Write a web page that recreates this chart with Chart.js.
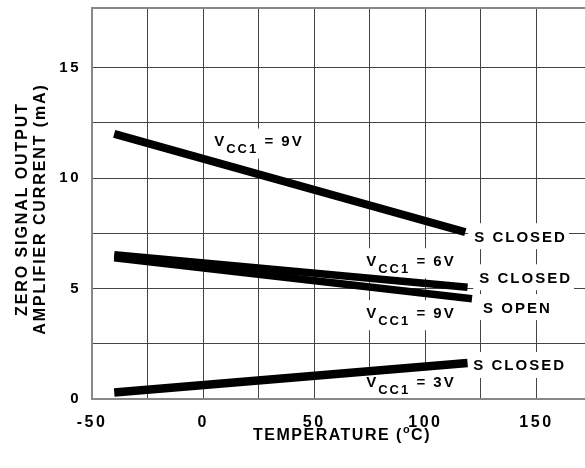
<!DOCTYPE html>
<html>
<head>
<meta charset="utf-8">
<script src="https://cdn.jsdelivr.net/npm/chart.js@4.4.1/dist/chart.umd.min.js"></script>
<style>
  html, body { margin: 0; padding: 0; background: #fff; overflow: hidden; }
  canvas { display: block; }
</style>
</head>
<body>
<canvas id="tempChart" width="600" height="468"></canvas>
<script>
// Curvas: temperatura (°C) x corrente (mA)
const vcc9ClosedX = [-40, 118];
const vcc9ClosedY = [12.0, 7.55];
const vcc6ClosedX = [-40, 119];
const vcc6ClosedY = [6.53, 5.06];
const vcc9OpenX = [-40, 121];
const vcc9OpenY = [6.39, 4.54];
const vcc3ClosedX = [-40, 119];
const vcc3ClosedY = [0.29, 1.63];

// Rótulos dos eixos
const xTickLabels = [-50, 0, 50, 100, 150];
const yTickLabels = [0, 5, 10, 15];

// Anotações (texto + posição em unidades do gráfico)
const vccValues = ['9V', '6V', '9V', '3V'];
const vccAtX = [5, 73.4, 73.4, 73.4];
const vccAtY = [11.7, 6.28, 3.93, 0.77];
const switchTexts = ['S CLOSED', 'S CLOSED', 'S OPEN', 'S CLOSED'];
const switchAtX = [122, 124.3, 126, 121.6];
const switchAtY = [7.37, 5.51, 4.16, 1.54];

const fam = '"Liberation Sans", Arial, Helvetica, sans-serif';

function toPoints(xs, ys) {
    return xs.map((x, i) => ({ x: x, y: ys[i] }));
}

function curve(xs, ys, width) {
    return {
        data: toPoints(xs, ys),
        borderColor: '#000',
        borderWidth: width,
        borderCapStyle: 'butt',
        pointRadius: 0,
        tension: 0,
        fill: false
    };
}

// mede "VCC1 = xV" (V + subscrito + resto)
function vccParts(ctx, value) {
    ctx.letterSpacing = '2px';
    ctx.font = 'bold 15px ' + fam;
    const wV = ctx.measureText('V').width;
    const rest = ' = ' + value;
    const wR = ctx.measureText(rest).width;
    ctx.font = 'bold 13px ' + fam;
    const wS = ctx.measureText('CC1').width;
    return { wV, wS, wR, rest };
}

function drawVcc(ctx, left, mid, value) {
    const p = vccParts(ctx, value);
    const base = mid + 5.4;
    ctx.fillStyle = '#000';
    ctx.textAlign = 'left';
    ctx.textBaseline = 'alphabetic';
    ctx.font = 'bold 15px ' + fam;
    ctx.fillText('V', left, base);
    ctx.font = 'bold 13px ' + fam;
    ctx.fillText('CC1', left + p.wV, base + 7);
    ctx.font = 'bold 15px ' + fam;
    ctx.fillText(p.rest, left + p.wV + p.wS, base);
}

function switchWidth(ctx, text) {
    ctx.letterSpacing = '2px';
    ctx.font = 'bold 15px ' + fam;
    return ctx.measureText(text).width;
}

const labelsPlugin = {
    id: 'labelsPlugin',
    beforeDraw(chart) {
        chart.ctx.letterSpacing = '2.5px';
    },
    // fundos brancos: apagam a grade, mas ficam sob as curvas
    beforeDatasetsDraw(chart) {
        const { ctx, chartArea, scales: { x, y } } = chart;
        ctx.save();
        ctx.fillStyle = '#fff';
        for (let i = 0; i < vccValues.length; i++) {
            const p = vccParts(ctx, vccValues[i]);
            const l = x.getPixelForValue(vccAtX[i]), m = y.getPixelForValue(vccAtY[i]);
            ctx.fillRect(l - 6, m - 12, p.wV + p.wS + p.wR + 8, 30);
        }
        for (let i = 0; i < switchTexts.length; i++) {
            const w = switchWidth(ctx, switchTexts[i]);
            const l = x.getPixelForValue(switchAtX[i]), m = y.getPixelForValue(switchAtY[i]);
            ctx.fillRect(l - 6, m - 13, w + 8, 26);
        }
        // moldura
        ctx.strokeStyle = '#888';
        ctx.lineWidth = 2;
        ctx.strokeRect(chartArea.left, chartArea.top, chartArea.right - chartArea.left, chartArea.bottom - chartArea.top);
        ctx.restore();
    },
    afterDatasetsDraw(chart) {
        const { ctx, scales: { x, y } } = chart;
        ctx.save();
        for (let i = 0; i < vccValues.length; i++) {
            drawVcc(ctx, x.getPixelForValue(vccAtX[i]), y.getPixelForValue(vccAtY[i]), vccValues[i]);
        }
        for (let i = 0; i < switchTexts.length; i++) {
            switchWidth(ctx, switchTexts[i]);
            ctx.fillStyle = '#000';
            ctx.textAlign = 'left';
            ctx.textBaseline = 'alphabetic';
            ctx.fillText(switchTexts[i], x.getPixelForValue(switchAtX[i]), y.getPixelForValue(switchAtY[i]) + 5.4);
        }
        ctx.restore();
    },
    afterDraw(chart) {
        const ctx = chart.ctx;
        ctx.save();
        ctx.fillStyle = '#000';

        // título eixo X: TEMPERATURE (°C)
        ctx.letterSpacing = '1.5px';
        ctx.textBaseline = 'alphabetic';
        ctx.textAlign = 'left';
        const p1 = 'TEMPERATURE (', p3 = 'C)';
        ctx.font = 'bold 16px ' + fam;
        const w1 = ctx.measureText(p1).width;
        const w3 = ctx.measureText(p3).width;
        ctx.font = 'bold 11px ' + fam;
        const w2 = ctx.measureText('o').width;
        let sx = 342 - (w1 + w2 + w3) / 2;
        ctx.font = 'bold 16px ' + fam;
        ctx.fillText(p1, sx, 440);
        ctx.font = 'bold 11px ' + fam;
        ctx.fillText('o', sx + w1, 433);
        ctx.font = 'bold 16px ' + fam;
        ctx.fillText(p3, sx + w1 + w2, 440);

        // título eixo Y (duas linhas)
        ctx.letterSpacing = '1.9px';
        ctx.font = 'bold 16px ' + fam;
        ctx.textAlign = 'center';
        ctx.textBaseline = 'middle';
        ctx.translate(0, 209);
        ctx.rotate(-Math.PI / 2);
        ctx.fillText('ZERO SIGNAL OUTPUT', 0, 23);
        ctx.fillText('AMPLIFIER CURRENT (mA)', 0, 41);
        ctx.restore();
    }
};

function noPad(s) {
    s.paddingTop = 0;
    s.paddingBottom = 0;
    s.paddingLeft = 0;
    s.paddingRight = 0;
}

new Chart(document.getElementById('tempChart'), {
    type: 'line',
    data: {
        datasets: [
            curve(vcc9ClosedX, vcc9ClosedY, 8),
            curve(vcc6ClosedX, vcc6ClosedY, 7.5),
            curve(vcc9OpenX, vcc9OpenY, 7.5),
            curve(vcc3ClosedX, vcc3ClosedY, 8.5)
        ]
    },
    options: {
        responsive: false,
        animation: false,
        layout: { padding: { top: 8, right: 8, left: 0, bottom: 0 } },
        plugins: { legend: { display: false }, tooltip: { enabled: false } },
        scales: {
            x: {
                type: 'linear',
                min: -50,
                max: 175,
                afterFit: (s) => { s.height = 69; noPad(s); },
                ticks: {
                    stepSize: 25,
                    autoSkip: false,
                    maxRotation: 0,
                    padding: 14,
                    color: '#000',
                    font: { family: fam, size: 16, weight: 'bold' },
                    callback: (v) => xTickLabels.includes(v) ? String(v) : ''
                },
                grid: { color: '#444', lineWidth: 1, drawTicks: false },
                border: { display: false }
            },
            y: {
                type: 'linear',
                min: 0,
                max: 17.7,
                afterFit: (s) => { s.width = 92; noPad(s); },
                afterBuildTicks: (s) => { s.ticks = s.ticks.filter(t => t.value <= 15.001); },
                ticks: {
                    stepSize: 2.5,
                    padding: 11,
                    color: '#000',
                    font: { family: fam, size: 15, weight: 'bold' },
                    callback: (v) => yTickLabels.includes(v) ? String(v) : ''
                },
                grid: { color: '#444', lineWidth: 1, drawTicks: false },
                border: { display: false }
            }
        }
    },
    plugins: [labelsPlugin]
});
</script>
</body>
</html>
